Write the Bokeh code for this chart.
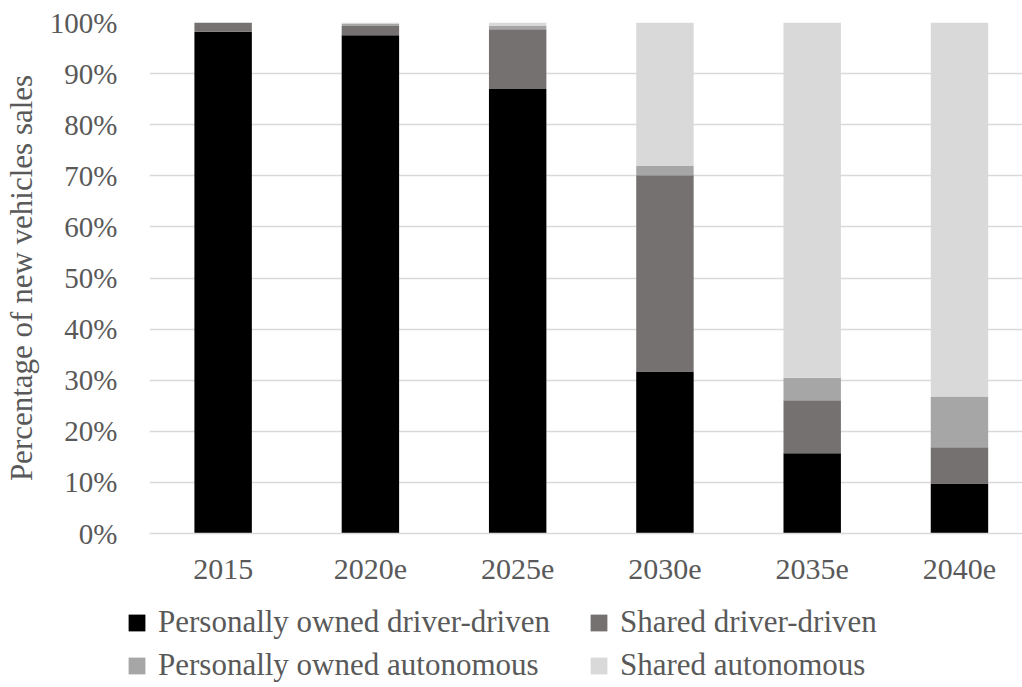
from bokeh.plotting import figure
from bokeh.layouts import column
from bokeh.models import (Range1d, FixedTicker, PrintfTickFormatter, Legend, LegendItem,
                          ColumnDataSource)
from bokeh.embed import file_html
from bokeh.resources import INLINE

categories = ["2015", "2020e", "2025e", "2030e", "2035e", "2040e"]
personally_owned_driver = [98.2, 97.5, 87.0, 31.7, 15.7, 9.8]
shared_driver = [1.8, 1.8, 11.7, 38.4, 10.4, 7.1]
personally_owned_auto = [0.0, 0.4, 0.6, 1.8, 4.4, 9.9]
shared_auto = [0.0, 0.3, 0.7, 28.1, 69.5, 73.2]
y_ticks = [0, 10, 20, 30, 40, 50, 60, 70, 80, 90, 100]

series = ["pod", "sdd", "poa", "sa"]
labels = ["Personally owned driver-driven", "Shared driver-driven",
          "Personally owned autonomous", "Shared autonomous"]
colors = ["#000000", "#767171", "#A6A6A6", "#D9D9D9"]

FONT = "Liberation Serif"
TXT = "#595959"

src = ColumnDataSource(dict(
    x=list(range(len(categories))),
    pod=personally_owned_driver, sdd=shared_driver,
    poa=personally_owned_auto, sa=shared_auto,
))

p = figure(width=1022, height=590, output_backend="svg", toolbar_location=None,
           x_range=Range1d(-0.5, 5.428), y_range=Range1d(0, 100),
           min_border_left=147, min_border_right=0, min_border_top=22,
           min_border_bottom=57)
p.outline_line_color = None
p.background_fill_color = "white"
p.border_fill_color = "white"
p.frame_align = False

rs = p.vbar_stack(series, x="x", width=0.39, source=src, color=colors, line_color=None)

p.xgrid.grid_line_color = None
p.ygrid.grid_line_color = "#D9D9D9"
p.ygrid.grid_line_width = 1.5
p.ygrid.ticker = FixedTicker(ticks=y_ticks)

p.yaxis.ticker = FixedTicker(ticks=y_ticks)
p.yaxis.formatter = PrintfTickFormatter(format="%d%%")
p.yaxis.axis_line_color = None
p.yaxis.major_tick_line_color = None
p.yaxis.minor_tick_line_color = None
p.yaxis.major_label_standoff = 26
p.yaxis.major_label_text_font = FONT
p.yaxis.major_label_text_font_size = "29px"
p.yaxis.major_label_text_color = TXT
p.yaxis.axis_label = "Percentage of new vehicles sales"
p.yaxis.axis_label_text_font = FONT
p.yaxis.axis_label_text_font_size = "31px"
p.yaxis.axis_label_text_font_style = "normal"
p.yaxis.axis_label_standoff = 8
p.yaxis.axis_label_text_color = TXT

p.xaxis.ticker = FixedTicker(ticks=list(range(len(categories))))
p.xaxis.major_label_overrides = {i: c for i, c in enumerate(categories)}
p.xaxis.axis_line_color = "#D9D9D9"
p.xaxis.axis_line_width = 1.5
p.xaxis.major_tick_line_color = None
p.xaxis.minor_tick_line_color = None
p.xaxis.major_label_standoff = 20
p.xaxis.major_label_text_font = FONT
p.xaxis.major_label_text_font_size = "30px"
p.xaxis.major_label_text_color = TXT

# legend strip below the chart (same stacked renderers, kept out of view)
lf = figure(width=1022, height=97, output_backend="svg", toolbar_location=None,
            x_range=Range1d(-0.5, 5.5), y_range=Range1d(1000, 1001), min_border=0)
lf.frame_align = False
lf.outline_line_color = None
lf.axis.visible = False
lf.grid.grid_line_color = None
lrs = lf.vbar_stack(series, x="x", width=0.39, source=src, color=colors, line_color=None)

for row, ypos in ((0, 47), (1, 4)):
    items = [LegendItem(label=labels[2 * row + k], renderers=[lrs[2 * row + k]])
             for k in range(2)]
    lg = Legend(items=items, location=(126, ypos), orientation="horizontal",
                padding=0, margin=0, border_line_color=None, background_fill_alpha=0,
                glyph_width=21, glyph_height=21, label_standoff=11, label_width=417,
                label_height=30, spacing=13,
                label_text_font=FONT, label_text_font_size="31px", label_text_color=TXT)
    lf.add_layout(lg, "center")

open("out.html", "w").write(file_html(column(p, lf, spacing=0), INLINE))
